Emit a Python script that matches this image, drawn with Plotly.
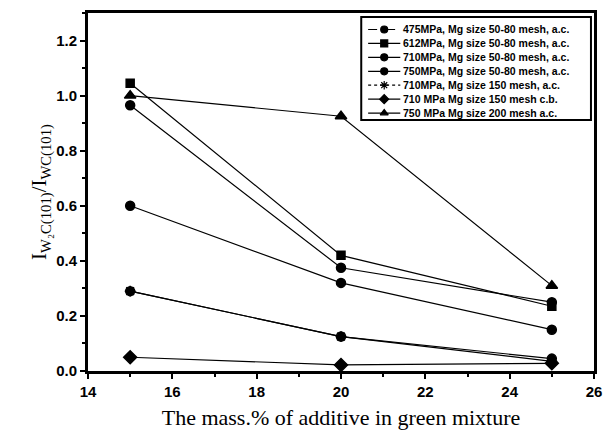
import plotly.graph_objects as go

x_vals = [15, 20, 25]
series_names = [
    "475MPa, Mg size 50-80 mesh, a.c.",
    "612MPa, Mg size 50-80 mesh, a.c.",
    "710MPa, Mg size 50-80 mesh, a.c.",
    "750MPa, Mg size 50-80 mesh, a.c.",
    "710MPa, Mg size 150 mesh, a.c.",
    "710 MPa Mg size 150 mesh c.b.",
    "750 MPa Mg size 200 mesh a.c.",
]
y_475 = [0.60, 0.32, 0.15]
y_612 = [1.045, 0.42, 0.235]
y_710 = [0.965, 0.375, 0.25]
y_750 = [0.29, 0.125, 0.045]
y_710_150ac = [0.29, 0.125, 0.035]
y_710_150cb = [0.05, 0.022, 0.028]
y_750_200 = [1.0, 0.925, 0.31]
series_values = [y_475, y_612, y_710, y_750, y_710_150ac, y_710_150cb, y_750_200]
symbols = ["circle", "square", "circle", "circle", "asterisk", "diamond", "triangle-up"]
legend_dashes = ["dash", "solid", "solid", "solid", "dot", "solid", "solid"]
sizes = [9, 8, 9, 9, 9, 10, 10]

fig = go.Figure()
for name, ys, sym, sz in zip(series_names, series_values, symbols, sizes):
    fig.add_trace(go.Scatter(
        x=x_vals, y=ys, name=name, mode="lines+markers", showlegend=False,
        line=dict(color="black", width=1.2),
        marker=dict(symbol=sym, size=sz, color="black",
                    line=dict(color="black", width=1.5)),
        xaxis="x", yaxis="y",
    ))

# custom compact legend drawn on a hidden overlay axis (row i -> y=i)
for i, (name, sym, dsh) in enumerate(zip(series_names, symbols, legend_dashes), start=1):
    fig.add_trace(go.Scatter(
        x=[0.03, 0.17], y=[i, i], mode="lines", showlegend=False, hoverinfo="skip",
        line=dict(color="black", width=1.2, dash=dsh), xaxis="x2", yaxis="y2",
    ))
    fig.add_trace(go.Scatter(
        x=[0.10], y=[i], mode="markers", showlegend=False, hoverinfo="skip",
        marker=dict(symbol=sym, size=7, color="black", line=dict(color="black", width=1.2)),
        xaxis="x2", yaxis="y2",
    ))
    fig.add_annotation(
        x=0.175, y=i, xref="x2", yref="y2", text=name, showarrow=False,
        xanchor="left", yanchor="middle",
        font=dict(family="Liberation Sans", size=10.5, color="black", weight="bold"),
    )

fig.add_shape(type="rect", xref="x2 domain", yref="y2 domain",
              x0=0, x1=1, y0=0, y1=1, line=dict(color="black", width=2),
              fillcolor="rgba(0,0,0,0)", layer="above")

axis_common = dict(
    showline=True, linecolor="black", linewidth=3, mirror=True,
    ticks="outside", tickcolor="black", tickwidth=2, ticklen=5,
    showgrid=False, zeroline=False,
    tickfont=dict(family="Liberation Sans", size=15, color="black", weight="bold"),
)

fig.update_layout(
    width=612, height=438,
    margin=dict(l=88, r=11, t=10, b=67),
    paper_bgcolor="white", plot_bgcolor="white",
    showlegend=False,
    xaxis=dict(
        range=[14, 26], dtick=2, tick0=14, domain=[0, 1],
        minor=dict(dtick=1, ticks="outside", ticklen=3, tickwidth=2, tickcolor="black"),
        title=dict(text="The mass.% of additive in green mixture",
                   font=dict(family="Liberation Serif", size=22, color="black"),
                   standoff=11),
        **axis_common,
    ),
    yaxis=dict(
        range=[0, 1.3], dtick=0.2, tick0=0, tickformat=".1f", domain=[0, 1],
        minor=dict(dtick=0.1, ticks="outside", ticklen=3, tickwidth=2, tickcolor="black"),
        title=dict(text="I<sub>W₂C(101)</sub>/I<sub>WC(101)</sub>",
                   font=dict(family="Liberation Serif", size=21, color="black"),
                   standoff=4),
        **axis_common,
    ),
    xaxis2=dict(domain=[0.540, 0.994], range=[0, 1], anchor="y2", visible=False,
                fixedrange=True),
    yaxis2=dict(domain=[0.701, 0.989], range=[7.5, 0.1], anchor="x2", visible=False,
                fixedrange=True),
)

fig.write_html("out.html")
